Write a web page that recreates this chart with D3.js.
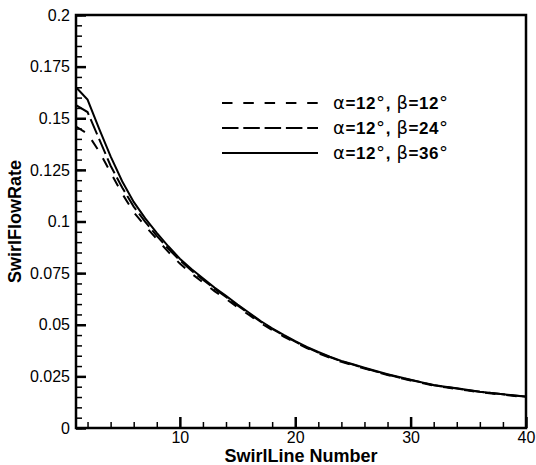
<!DOCTYPE html>
<html>
<head>
<meta charset="utf-8">
<script src="https://cdn.jsdelivr.net/npm/d3@7"></script>
<style>
  body { margin: 0; background: #fff; }
  svg { display: block; }
  text { font-family: "Liberation Sans", Arial, sans-serif; fill: #000; }
</style>
</head>
<body>
<div id="chart"></div>
<script>
// swirl line numbers 1..40
const swirlLines = d3.range(1, 41);

// beta = 12 deg (short dash)
const rateB12 = [0.146, 0.1425, 0.134, 0.1237, 0.1135, 0.1045, 0.0978, 0.0915, 0.0853, 0.0796,
    0.0748, 0.0705, 0.0663, 0.0625, 0.0585, 0.0547, 0.0508, 0.0474, 0.0443, 0.0414,
    0.0387, 0.0362, 0.034, 0.032, 0.0304, 0.0288, 0.0272, 0.0257, 0.0243, 0.023,
    0.0218, 0.0205, 0.0197, 0.0189, 0.0181, 0.0173, 0.0167, 0.0161, 0.0155, 0.0149];

// beta = 24 deg (long dash)
const rateB24 = [0.1564, 0.153, 0.140, 0.127, 0.1165, 0.1072, 0.0998, 0.093, 0.0868, 0.0812,
    0.0763, 0.0718, 0.0675, 0.0635, 0.0594, 0.0554, 0.0515, 0.048, 0.0448, 0.0418,
    0.039, 0.0365, 0.0343, 0.0323, 0.0307, 0.029, 0.0274, 0.0259, 0.0245, 0.0232,
    0.022, 0.0207, 0.0199, 0.0191, 0.0183, 0.0175, 0.0169, 0.0163, 0.0157, 0.0151];

// beta = 36 deg (solid)
const rateB36 = [0.165, 0.159, 0.145, 0.1315, 0.1195, 0.1095, 0.1015, 0.0945, 0.088, 0.082,
    0.077, 0.0725, 0.068, 0.064, 0.0598, 0.0558, 0.0518, 0.0483, 0.0451, 0.0421,
    0.0393, 0.0368, 0.0345, 0.0325, 0.0309, 0.0292, 0.0276, 0.026, 0.0247, 0.0234,
    0.0221, 0.0208, 0.020, 0.0192, 0.0184, 0.0176, 0.017, 0.0164, 0.0158, 0.0152];

const seriesBetas = ["12", "24", "36"];
const xMajorTicks = [10, 20, 30, 40];
const xMinorTicks = [2, 4, 6, 8, 12, 14, 16, 18, 22, 24, 26, 28, 32, 34, 36, 38];
const yMajorTicks = d3.range(0, 9).map(i => +(i * 0.025).toFixed(3));
const yMinorTicks = d3.range(0, 41).map(i => +(i * 0.005).toFixed(3));

const width = 536, height = 465;
const margin = { top: 15, right: 10, bottom: 37, left: 76 };

const svg = d3.select("#chart")
    .append("svg")
    .attr("width", width)
    .attr("height", height);

const x = d3.scaleLinear().domain([1, 40]).range([margin.left, width - margin.right]);
const y = d3.scaleLinear().domain([0, 0.2]).range([height - margin.bottom, margin.top]);

// 曲线
const series = [
    { values: rateB12, dash: "10.5,10.8" },
    { values: rateB24, dash: "16.5,4.8" },
    { values: rateB36, dash: null }
];

const line = d3.line()
    .x((d, i) => x(swirlLines[i]))
    .y(d => y(d));

series.forEach(s => {
    svg.append("path")
        .datum(s.values)
        .attr("fill", "none")
        .attr("stroke", "#000")
        .attr("stroke-width", 2)
        .attr("stroke-dasharray", s.dash)
        .attr("d", line);
});

// minor ticks
svg.append("g")
    .attr("transform", `translate(${margin.left},0)`)
    .call(d3.axisLeft(y).tickValues(yMinorTicks).tickSize(-6).tickFormat(""))
    .call(g => g.selectAll(".tick line").attr("stroke-width", 1.5))
    .call(g => g.select(".domain").remove());

svg.append("g")
    .attr("transform", `translate(0,${y(0)})`)
    .call(d3.axisBottom(x).tickValues(xMinorTicks).tickSize(-6).tickFormat(""))
    .call(g => g.selectAll(".tick line").attr("stroke-width", 1.5))
    .call(g => g.select(".domain").remove());

// major ticks + labels
svg.append("g")
    .attr("transform", `translate(${margin.left},0)`)
    .call(d3.axisLeft(y).tickValues(yMajorTicks).tickSize(-10).tickPadding(6)
        .tickFormat(d => String(d)))
    .call(g => g.selectAll(".tick line").attr("stroke-width", 2.5))
    .call(g => g.selectAll(".tick text").attr("font-size", 16)
        .style("font-family", "'Liberation Sans', Arial, sans-serif"))
    .call(g => g.select(".domain").remove());

svg.append("g")
    .attr("transform", `translate(0,${y(0)})`)
    .call(d3.axisBottom(x).tickValues(xMajorTicks).tickSize(-11).tickPadding(4))
    .call(g => g.selectAll(".tick line").attr("stroke-width", 2.5))
    .call(g => g.selectAll(".tick text").attr("font-size", 16)
        .style("font-family", "'Liberation Sans', Arial, sans-serif"))
    .call(g => g.select(".domain").remove());

// 边框
svg.append("rect")
    .attr("x", margin.left)
    .attr("y", margin.top)
    .attr("width", x(40) - x(1))
    .attr("height", y(0) - y(0.2))
    .attr("fill", "none")
    .attr("stroke", "#000")
    .attr("stroke-width", 2.5);

// 轴标题
svg.append("text")
    .attr("x", (x(1) + x(40)) / 2)
    .attr("y", 462)
    .attr("text-anchor", "middle")
    .attr("font-size", 18)
    .attr("font-weight", "bold")
    .text("SwirlLine Number");

svg.append("text")
    .attr("transform", `translate(21,${(y(0) + y(0.2)) / 2}) rotate(-90)`)
    .attr("text-anchor", "middle")
    .attr("font-size", 18)
    .attr("font-weight", "bold")
    .text("SwirlFlowRate");

// 图例
const legend = svg.append("g").attr("transform", "translate(222,103)");
const symbolFont = "'DejaVu Sans', sans-serif";

series.forEach((s, i) => {
    const item = legend.append("g").attr("transform", `translate(0,${i * 25})`);
    item.append("line")
        .attr("x1", 0).attr("x2", 96)
        .attr("stroke", "#000")
        .attr("stroke-width", 2)
        .attr("stroke-dasharray", s.dash);
    const t = item.append("text")
        .attr("x", 111)
        .attr("y", 6)
        .attr("font-size", 17)
        .attr("font-weight", "bold")
        .attr("letter-spacing", 0.6);
    const sym = str => t.append("tspan")
        .attr("font-family", symbolFont)
        .attr("font-weight", "normal")
        .attr("font-size", 18)
        .text(str);
    sym("α");
    t.append("tspan").text("=12");
    sym("°");
    t.append("tspan").text(", ");
    sym("β");
    t.append("tspan").text("=" + seriesBetas[i]);
    sym("°");
});
</script>
</body>
</html>
